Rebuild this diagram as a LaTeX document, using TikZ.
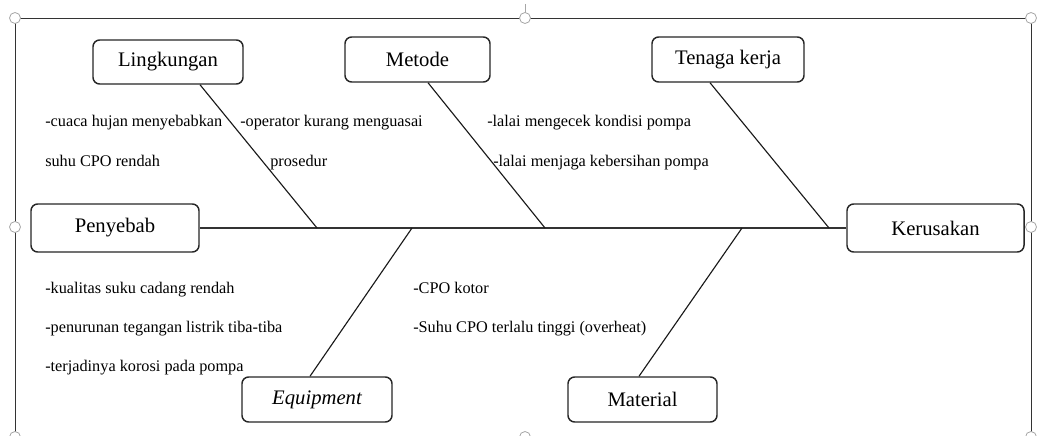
\documentclass[tikz,border=0pt]{standalone}
\usepackage{fontspec}
\setmainfont{Liberation Serif}
\begin{document}
\begin{tikzpicture}[x=0.75pt,y=-0.75pt,
  catbox/.style={draw=black!85, line width=1.1pt, rounded corners=5pt, fill=white,
    inner sep=0pt, font=\fontsize{15.5}{18}\selectfont},
  cause/.style={anchor=mid west, inner sep=0pt, font=\fontsize{12.2}{14}\selectfont},
  bone/.style={draw=black!90, line width=0.85pt},
  frameline/.style={draw=black!80, line width=0.7pt},
  handle/.style={draw=black!35, fill=white, line width=0.6pt}]
\useasboundingbox (0,0) rectangle (1037,435);
% selection frame
\coordinate (fTL) at (15,18);
\coordinate (fTM) at (525,18);
\coordinate (fTR) at (1031,18);
\coordinate (fML) at (15,227);
\coordinate (fMR) at (1031,227);
\coordinate (fBL) at (15,437);
\coordinate (fBM) at (525,437);
\coordinate (fBR) at (1031,437);
\coordinate (rotTop) at (525,4);
\draw[frameline] (fBL) -- (fTL) -- (fTR) -- (fBR);
\draw[draw=black!35, line width=0.6pt] (rotTop) -- (fTM);
\foreach \h in {fTL,fTM,fTR,fML,fMR,fBL,fBM,fBR}
  \draw[handle] (\h) circle (5.5);
% category boxes
\node[catbox, minimum width=112.5pt, minimum height=33pt] (ling) at (168,62) {Lingkungan};
\node[catbox, minimum width=108.75pt, minimum height=33.75pt] (met) at (417.5,59.5) {Metode};
\node[catbox, minimum width=114pt, minimum height=33.75pt] (ten) at (728,59.5) {Tenaga kerja};
\node[catbox, minimum width=126pt, minimum height=36pt] (peny) at (115,228) {Penyebab};
\node[catbox, minimum width=132.75pt, minimum height=36pt] (ker) at (935.5,228) {Kerusakan};
\node[catbox, minimum width=112.5pt, minimum height=33.75pt] (equ) at (317,399.5) {\itshape Equipment};
\node[catbox, minimum width=111.75pt, minimum height=33.75pt] (mat) at (642.5,399.5) {Material};
% spine
\draw[draw=black!80, line width=1pt] (peny.east) -- (ker.west);
% bone junctions
\coordinate (jLing) at (317,228);
\coordinate (jMet) at (545,228);
\coordinate (jTen) at (829,228);
\coordinate (jEqu) at (412,228);
\coordinate (jMat) at (742,228);
\draw[bone] (ling.south -| 200,0) -- (jLing);
\draw[bone] (met.south -| 428,0) -- (jMet);
\draw[bone] (ten.south -| 710,0) -- (jTen);
\draw[bone] (equ.north -| 310,0) -- (jEqu);
\draw[bone] (mat.north -| 639,0) -- (jMat);
% causes
\node[cause] (c1) at (45,123) {-cuaca hujan menyebabkan};
\node[cause] (c2) at (45,163) {suhu CPO rendah};
\node[cause] (c3) at (240,123) {-operator kurang menguasai};
\node[cause] (c4) at (270,163) {prosedur};
\node[cause] (c5) at (487,123) {-lalai mengecek kondisi pompa};
\node[cause] (c6) at (493,163) {-lalai menjaga kebersihan pompa};
\node[cause] (c7) at (45,290) {-kualitas suku cadang rendah};
\node[cause] (c8) at (45,329) {-penurunan tegangan listrik tiba-tiba};
\node[cause] (c9) at (45,368) {-terjadinya korosi pada pompa};
\node[cause] (c10) at (413,290) {-CPO kotor};
\node[cause] (c11) at (413,329) {-Suhu CPO terlalu tinggi (overheat)};
\end{tikzpicture}
\end{document}
